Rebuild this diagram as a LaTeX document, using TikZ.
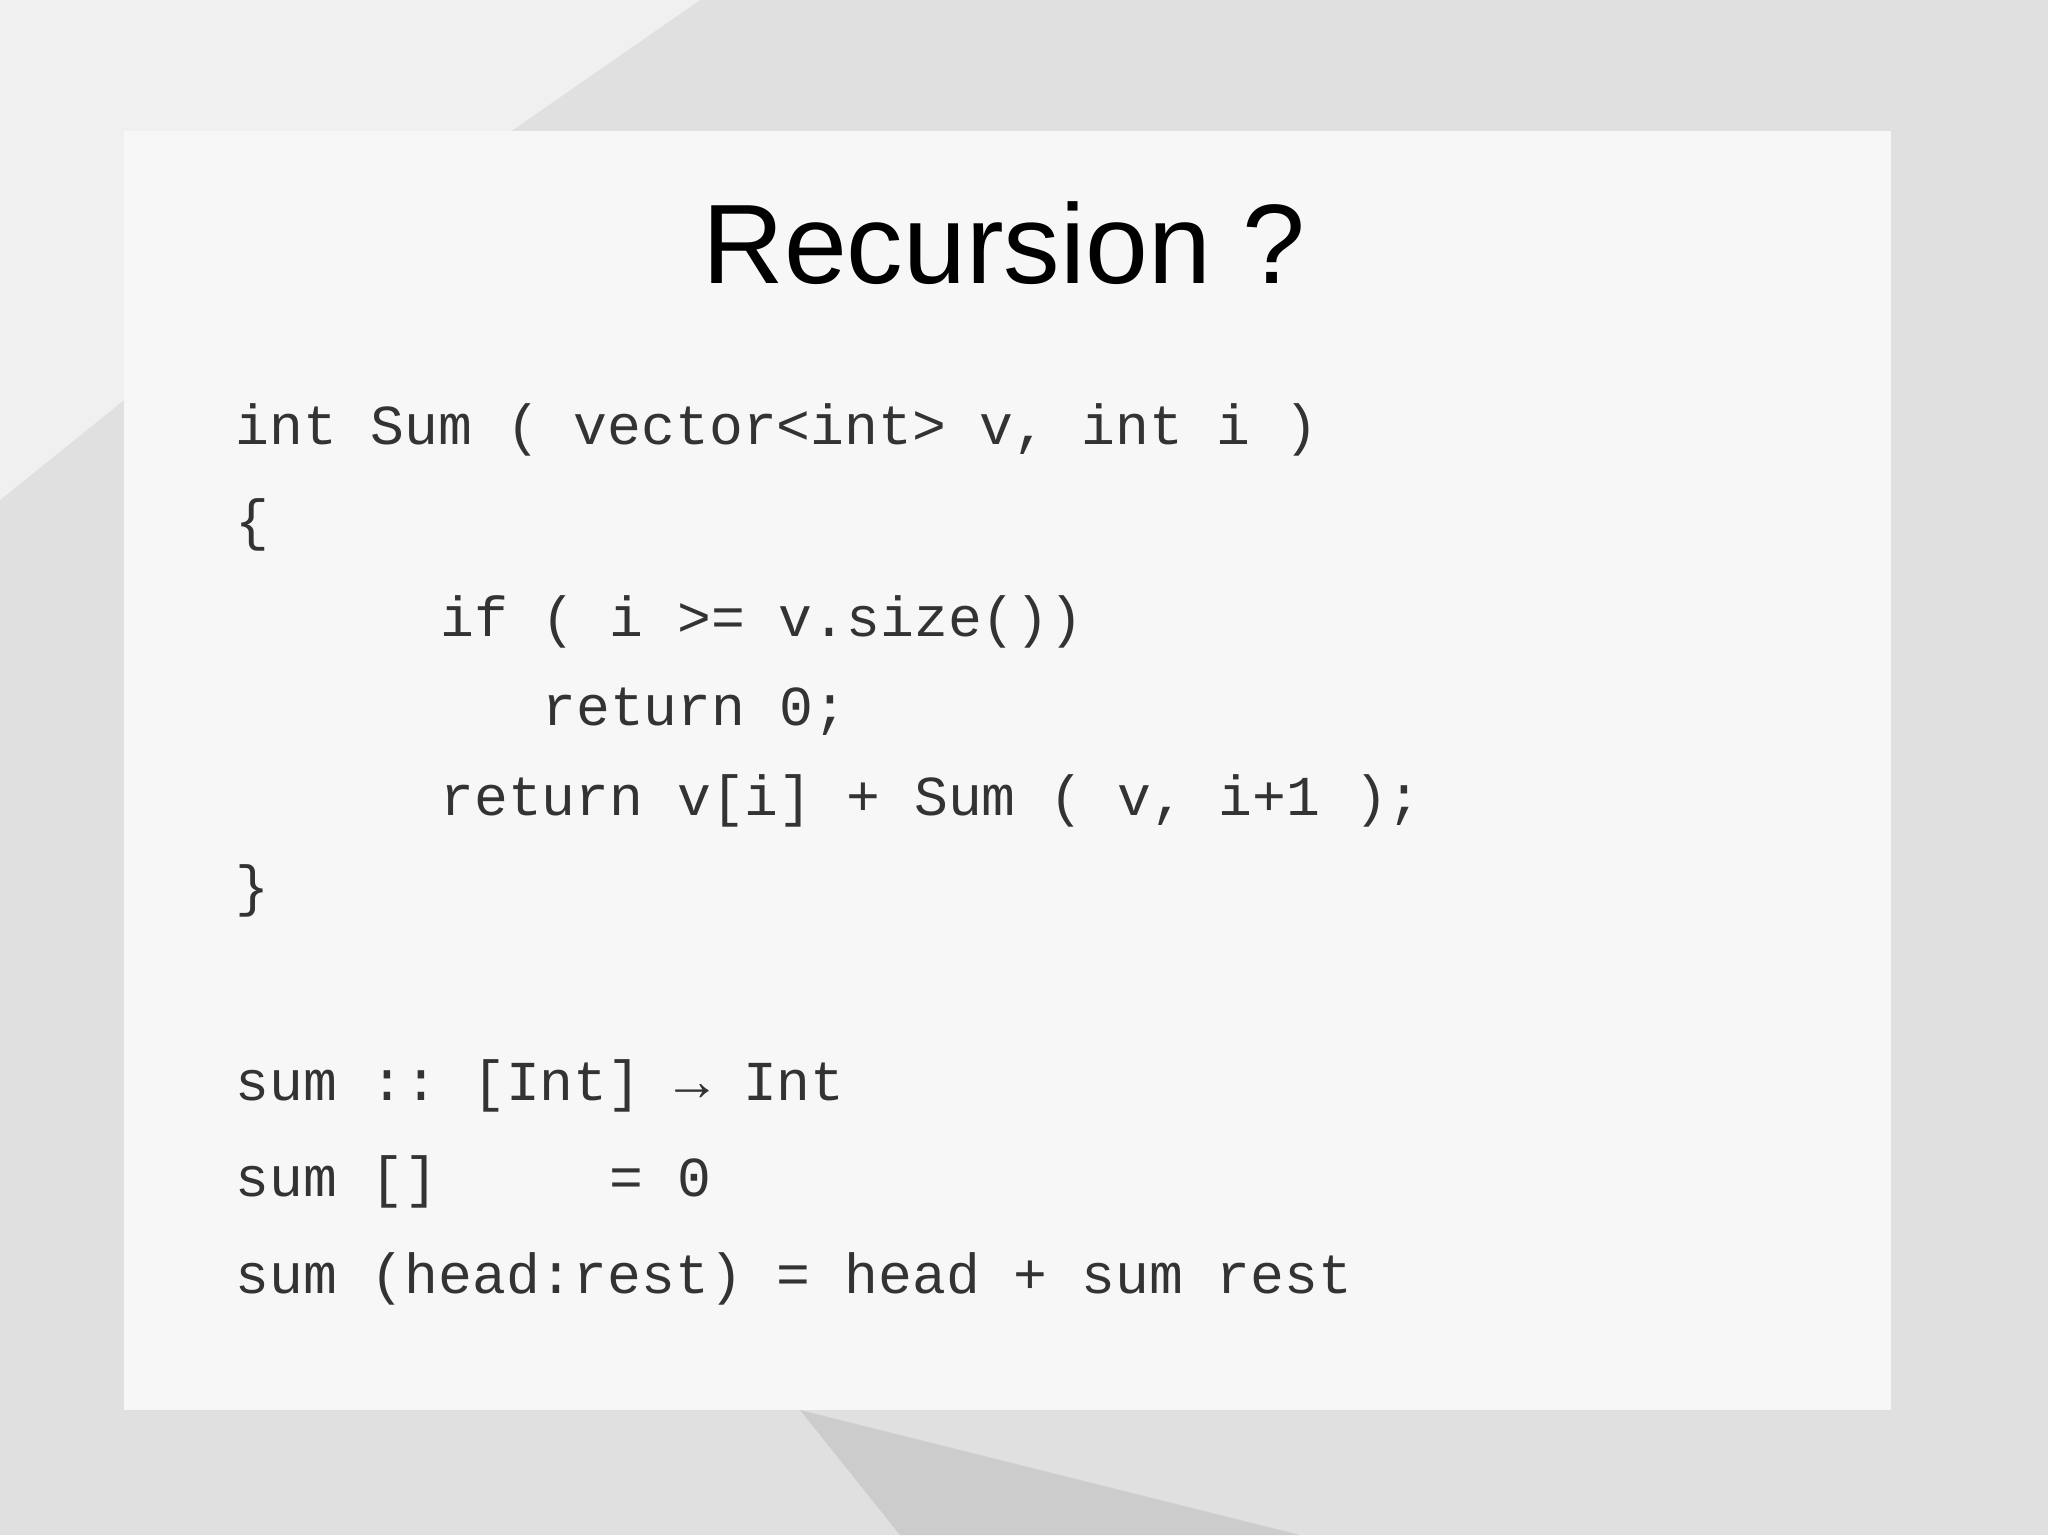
\documentclass[tikz,border=0pt]{standalone}
\usepackage{fontspec}
\setmainfont{Liberation Sans}
\setmonofont{Liberation Mono}
\begin{document}
\begin{tikzpicture}[x=0.5pt,y=-0.5pt,
  code/.style={anchor=base west,inner sep=0pt,font=\fontsize{28.2}{30}\ttfamily,text=black!80}]
\useasboundingbox (0,0) rectangle (2048,1535);
\fill[black!12] (0,0) rectangle (2048,1535);
\fill[black!6] (0,0) -- (700,0) -- (124,400) -- (0,500) -- cycle;
\fill[black!20] (800,1410) -- (1300,1535) -- (900,1535) -- cycle;
\fill[white!97!black] (124,131) rectangle (1891,1410);
\node[anchor=base,inner sep=0pt,font=\fontsize{56.5}{62}\selectfont] (title) at (1004,284) {Recursion ?};
\node[code] (l1) at (235,444) {int Sum ( vector<int> v, int i )};
\node[code] (l2) at (235,539) {\{};
\node[code] (l3) at (440,636) {if ( i >= v.size())};
\node[code] (l4) at (542,725) {return 0;};
\node[code] (l5) at (440,815) {return v[i] + Sum ( v, i+1 );};
\node[code] (l6) at (235,905) {\}};
\node[code] (l7) at (235,1100) {sum :: [Int] → Int};
\node[code] (l8) at (235,1196) {sum []};
\node[code] (l8b) at (609,1196) {= 0};
\node[code] (l9) at (235,1293) {sum (head:rest) = head + sum rest};
\end{tikzpicture}
\end{document}
